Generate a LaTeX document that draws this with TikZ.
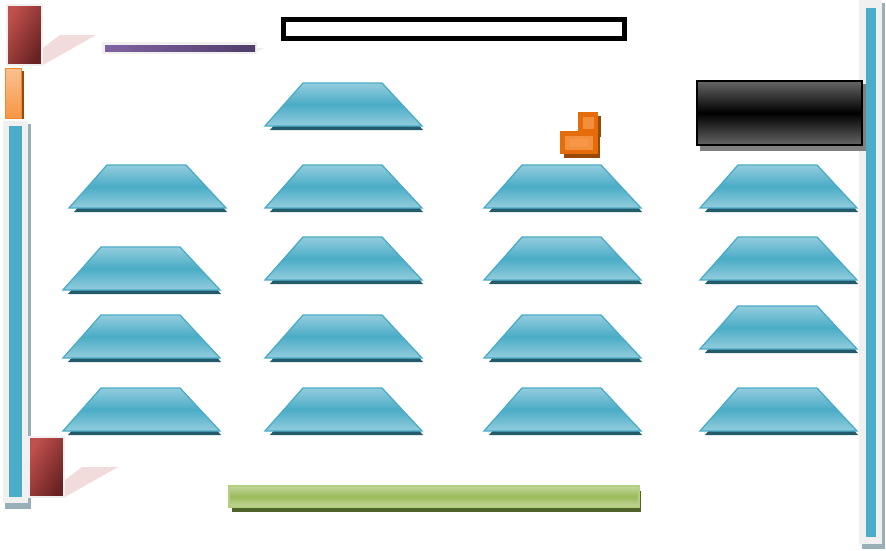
\documentclass[tikz,border=0pt]{standalone}
\usetikzlibrary{calc}
\definecolor{tblue}{HTML}{4AACC6}
\definecolor{tlight}{HTML}{93CDDD}
\definecolor{tdark}{HTML}{245B6B}
\definecolor{gframe}{HTML}{F0F0F0}
\definecolor{gshadow}{HTML}{98AFB8}
\definecolor{redA}{HTML}{C0504D}
\definecolor{redB}{HTML}{682222}
\definecolor{pinkflap}{HTML}{F2DCDB}
\definecolor{purA}{HTML}{8064A2}
\definecolor{purB}{HTML}{4F3D6B}
\definecolor{orA}{HTML}{E46C0A}
\definecolor{orB}{HTML}{F79646}
\definecolor{orC}{HTML}{984807}
\definecolor{orL}{HTML}{FAC090}
\definecolor{grA}{HTML}{9BBB59}
\definecolor{grL}{HTML}{C3D69B}
\definecolor{grD}{HTML}{4F6228}
\definecolor{grE}{HTML}{B3CF80}
\tikzset{
  tblshadow/.style={fill=tdark,draw=none},
  tblbody/.style={draw=tblue,line width=1.3pt,line join=miter,top color=tlight,bottom color=tlight,middle color=tblue},
  redbox/.style={left color=redA,right color=redB,shading angle=60,draw=gframe,line width=1.5pt},
}
\newcommand\tbl[2]{%
  \fill[tblshadow] (#1+5,#2+47) -- (#1+43,#2+4) -- (#1+121,#2+4) -- (#1+158,#2+47) -- cycle;
  \draw[tblbody] (#1,#2+43) -- (#1+38,#2) -- (#1+117,#2) -- (#1+157,#2+43) -- cycle;
}
\begin{document}
\begin{tikzpicture}[x=1pt,y=-1pt]
\useasboundingbox (0,0) rectangle (886,550);
\fill[white] (0,0) rectangle (886,550);
% top title frame
\draw[black,line width=5pt] (283.5,19.5) rectangle (624.5,38.5);
% tables
\tbl{265}{83}
\tbl{69}{165}\tbl{63}{247}\tbl{63}{315}\tbl{63}{388}
\tbl{265}{165}\tbl{265}{237}\tbl{265}{315}\tbl{265}{388}
\tbl{484}{165}\tbl{484}{237}\tbl{484}{315}\tbl{484}{388}
\tbl{700}{165}\tbl{700}{237}\tbl{700}{306}\tbl{700}{388}
% right vertical bar
\fill[gshadow] (880,3) rectangle (885,549);
\fill[gshadow] (862,541) rectangle (885,549);
\fill[gframe] (859,0) rectangle (882,544);
\fill[tblue] (866,8) rectangle (876,537);
% dark box
\fill[black!50] (700,84) rectangle (866,151);
\draw[black,line width=2pt,top color=black!60,bottom color=black!60,middle color=black] (697,81) rectangle (862,145);
% orange piece
\fill[orC] (582,116) rectangle (601,137);
\fill[orC] (564,135) rectangle (600,158);
\fill[orA] (578,112) rectangle (598,133);
\fill[orA] (560,131) rectangle (598,154);
\fill[orB!80!orA] (583,117) rectangle (594,129);
\fill[orB!85!orA] (565,136) rectangle (593,150);
\fill[orB] (569,139) rectangle (588,147);
% top-left red box and its pink flap
\fill[pinkflap] (43,48) -- (60,35) -- (96,35) -- (43,65) -- cycle;
\shade[redbox] (7,5) rectangle (42,65);
% purple bar
\fill[purA!12!white] (255,48) -- (264,48) -- (255,53) -- cycle;
\fill[gframe] (102,42) rectangle (257,54);
\shade[left color=purA,right color=purB] (105,45) rectangle (255,51);
% orange vertical bar
\fill[orC] (20,71) rectangle (24,119);
\shade[draw=orB!70!orA,line width=0.8pt,top color=orL,bottom color=orB] (5,68) rectangle (21,118);
% left vertical bar
\fill[gshadow] (26,124) rectangle (31,509);
\fill[gshadow] (5,500) rectangle (31,509);
\fill[gframe] (3,121) rectangle (28,503);
\fill[tblue] (9,126) rectangle (22,497);
% bottom-left red box and flap
\fill[pinkflap] (65,480) -- (82,467) -- (118,467) -- (65,497) -- cycle;
\shade[redbox] (29,437) rectangle (64,497);
% green bar
\fill[grD] (232,491) rectangle (641,512);
\shade[draw=grE,line width=1.3pt,top color=grL,bottom color=grL,middle color=grA] (229,486) rectangle (639,507);
\end{tikzpicture}
\end{document}
